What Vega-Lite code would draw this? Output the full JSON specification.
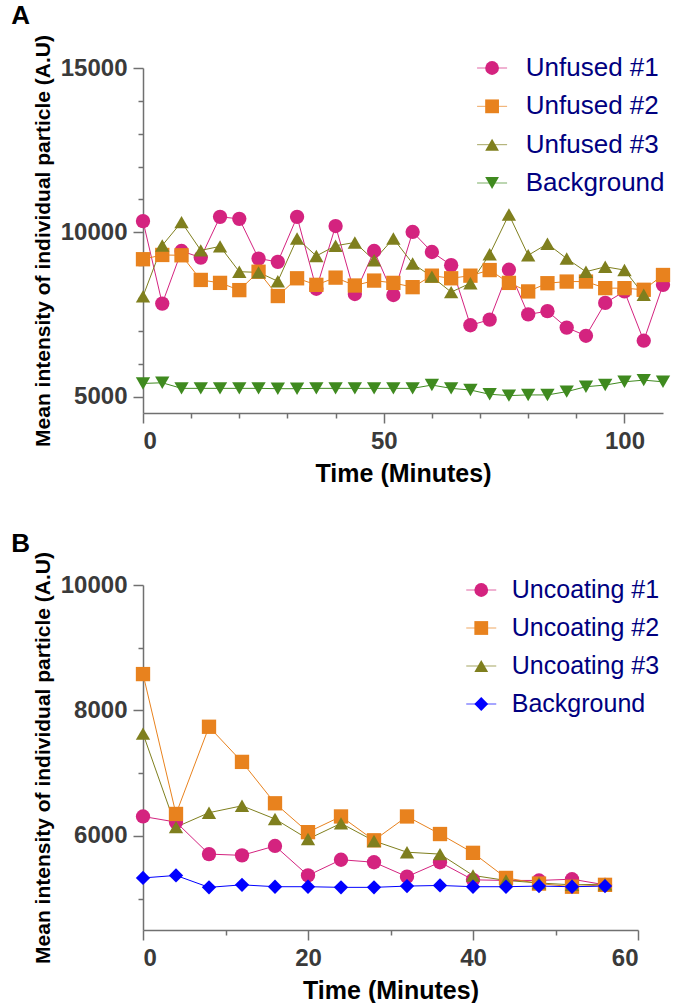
{
  "$schema": "https://vega.github.io/schema/vega-lite/v6.json",
  "padding": {"left": 11, "top": 2, "right": 0, "bottom": 0},
  "spacing": 44,
  "config": {
    "view": {"stroke": null},
    "font": "Liberation Sans",
    "axis": {
      "grid": false,
      "domainColor": "#707070", "domainWidth": 1.5,
      "tickColor": "#707070", "tickWidth": 1.5,
      "labelFont": "Liberation Sans", "labelFontWeight": "bold", "labelColor": "#3a3a3a",
      "titleFont": "Liberation Sans", "titleFontWeight": "bold", "titleColor": "#000000"
    },
    "axisX": {"labelFontSize": 24, "titleFontSize": 25, "labelPadding": 6, "titlePadding": 8},
    "axisY": {"labelFontSize": 24, "titleFontSize": 21, "labelPadding": 6, "titlePadding": 7},
    "title": {"font": "Liberation Sans", "fontSize": 26, "fontWeight": "bold", "color": "#000000", "anchor": "start", "frame": "bounds"}
  },
  "resolve": {
    "scale": {"color": "independent", "shape": "independent", "stroke": "independent"}
  },
  "datasets": {
    "a": [
      {"t": 0, "v": 10340, "s": "Unfused #1"}, {"t": 4, "v": 7830, "s": "Unfused #1"}, {"t": 8, "v": 9430, "s": "Unfused #1"}, {"t": 12, "v": 9230, "s": "Unfused #1"},
      {"t": 16, "v": 10470, "s": "Unfused #1"}, {"t": 20, "v": 10410, "s": "Unfused #1"}, {"t": 24, "v": 9200, "s": "Unfused #1"}, {"t": 28, "v": 9100, "s": "Unfused #1"},
      {"t": 32, "v": 10470, "s": "Unfused #1"}, {"t": 36, "v": 8280, "s": "Unfused #1"}, {"t": 40, "v": 10190, "s": "Unfused #1"}, {"t": 44, "v": 8120, "s": "Unfused #1"},
      {"t": 48, "v": 9430, "s": "Unfused #1"}, {"t": 52, "v": 8090, "s": "Unfused #1"}, {"t": 56, "v": 10010, "s": "Unfused #1"}, {"t": 60, "v": 9400, "s": "Unfused #1"},
      {"t": 64, "v": 9000, "s": "Unfused #1"}, {"t": 68, "v": 7170, "s": "Unfused #1"}, {"t": 72, "v": 7340, "s": "Unfused #1"}, {"t": 76, "v": 8860, "s": "Unfused #1"},
      {"t": 80, "v": 7500, "s": "Unfused #1"}, {"t": 84, "v": 7600, "s": "Unfused #1"}, {"t": 88, "v": 7100, "s": "Unfused #1"}, {"t": 92, "v": 6850, "s": "Unfused #1"},
      {"t": 96, "v": 7850, "s": "Unfused #1"}, {"t": 100, "v": 8200, "s": "Unfused #1"}, {"t": 104, "v": 6700, "s": "Unfused #1"}, {"t": 108, "v": 8400, "s": "Unfused #1"},
      {"t": 0, "v": 9180, "s": "Unfused #2"}, {"t": 4, "v": 9310, "s": "Unfused #2"}, {"t": 8, "v": 9300, "s": "Unfused #2"}, {"t": 12, "v": 8550, "s": "Unfused #2"},
      {"t": 16, "v": 8460, "s": "Unfused #2"}, {"t": 20, "v": 8240, "s": "Unfused #2"}, {"t": 24, "v": 8800, "s": "Unfused #2"}, {"t": 28, "v": 8060, "s": "Unfused #2"},
      {"t": 32, "v": 8600, "s": "Unfused #2"}, {"t": 36, "v": 8400, "s": "Unfused #2"}, {"t": 40, "v": 8620, "s": "Unfused #2"}, {"t": 44, "v": 8380, "s": "Unfused #2"},
      {"t": 48, "v": 8530, "s": "Unfused #2"}, {"t": 52, "v": 8460, "s": "Unfused #2"}, {"t": 56, "v": 8330, "s": "Unfused #2"}, {"t": 60, "v": 8680, "s": "Unfused #2"},
      {"t": 64, "v": 8600, "s": "Unfused #2"}, {"t": 68, "v": 8680, "s": "Unfused #2"}, {"t": 72, "v": 8850, "s": "Unfused #2"}, {"t": 76, "v": 8460, "s": "Unfused #2"},
      {"t": 80, "v": 8200, "s": "Unfused #2"}, {"t": 84, "v": 8450, "s": "Unfused #2"}, {"t": 88, "v": 8500, "s": "Unfused #2"}, {"t": 92, "v": 8500, "s": "Unfused #2"},
      {"t": 96, "v": 8300, "s": "Unfused #2"}, {"t": 100, "v": 8300, "s": "Unfused #2"}, {"t": 104, "v": 8250, "s": "Unfused #2"}, {"t": 108, "v": 8700, "s": "Unfused #2"},
      {"t": 0, "v": 8050, "s": "Unfused #3"}, {"t": 4, "v": 9600, "s": "Unfused #3"}, {"t": 8, "v": 10310, "s": "Unfused #3"}, {"t": 12, "v": 9450, "s": "Unfused #3"},
      {"t": 16, "v": 9570, "s": "Unfused #3"}, {"t": 20, "v": 8800, "s": "Unfused #3"}, {"t": 24, "v": 8780, "s": "Unfused #3"}, {"t": 28, "v": 8510, "s": "Unfused #3"},
      {"t": 32, "v": 9810, "s": "Unfused #3"}, {"t": 36, "v": 9280, "s": "Unfused #3"}, {"t": 40, "v": 9590, "s": "Unfused #3"}, {"t": 44, "v": 9690, "s": "Unfused #3"},
      {"t": 48, "v": 9150, "s": "Unfused #3"}, {"t": 52, "v": 9810, "s": "Unfused #3"}, {"t": 56, "v": 9050, "s": "Unfused #3"}, {"t": 60, "v": 8650, "s": "Unfused #3"},
      {"t": 64, "v": 8180, "s": "Unfused #3"}, {"t": 68, "v": 8450, "s": "Unfused #3"}, {"t": 72, "v": 9330, "s": "Unfused #3"}, {"t": 76, "v": 10540, "s": "Unfused #3"},
      {"t": 80, "v": 9300, "s": "Unfused #3"}, {"t": 84, "v": 9650, "s": "Unfused #3"}, {"t": 88, "v": 9200, "s": "Unfused #3"}, {"t": 92, "v": 8800, "s": "Unfused #3"},
      {"t": 96, "v": 8950, "s": "Unfused #3"}, {"t": 100, "v": 8850, "s": "Unfused #3"}, {"t": 104, "v": 8100, "s": "Unfused #3"},
      {"t": 0, "v": 5400, "s": "Background"}, {"t": 4, "v": 5420, "s": "Background"}, {"t": 8, "v": 5250, "s": "Background"}, {"t": 12, "v": 5250, "s": "Background"},
      {"t": 16, "v": 5250, "s": "Background"}, {"t": 20, "v": 5250, "s": "Background"}, {"t": 24, "v": 5250, "s": "Background"}, {"t": 28, "v": 5240, "s": "Background"},
      {"t": 32, "v": 5240, "s": "Background"}, {"t": 36, "v": 5250, "s": "Background"}, {"t": 40, "v": 5250, "s": "Background"}, {"t": 44, "v": 5250, "s": "Background"},
      {"t": 48, "v": 5250, "s": "Background"}, {"t": 52, "v": 5250, "s": "Background"}, {"t": 56, "v": 5250, "s": "Background"}, {"t": 60, "v": 5350, "s": "Background"},
      {"t": 64, "v": 5250, "s": "Background"}, {"t": 68, "v": 5200, "s": "Background"}, {"t": 72, "v": 5070, "s": "Background"}, {"t": 76, "v": 5030, "s": "Background"},
      {"t": 80, "v": 5050, "s": "Background"}, {"t": 84, "v": 5050, "s": "Background"}, {"t": 88, "v": 5150, "s": "Background"}, {"t": 92, "v": 5300, "s": "Background"},
      {"t": 96, "v": 5350, "s": "Background"}, {"t": 100, "v": 5450, "s": "Background"}, {"t": 104, "v": 5500, "s": "Background"}, {"t": 108, "v": 5450, "s": "Background"}
    ],
    "b": [
      {"t": 0, "v": 6310, "s": "Uncoating #1"}, {"t": 4, "v": 6220, "s": "Uncoating #1"}, {"t": 8, "v": 5710, "s": "Uncoating #1"}, {"t": 12, "v": 5690, "s": "Uncoating #1"},
      {"t": 16, "v": 5840, "s": "Uncoating #1"}, {"t": 20, "v": 5370, "s": "Uncoating #1"}, {"t": 24, "v": 5620, "s": "Uncoating #1"}, {"t": 28, "v": 5580, "s": "Uncoating #1"},
      {"t": 32, "v": 5350, "s": "Uncoating #1"}, {"t": 36, "v": 5580, "s": "Uncoating #1"}, {"t": 40, "v": 5300, "s": "Uncoating #1"}, {"t": 44, "v": 5290, "s": "Uncoating #1"},
      {"t": 48, "v": 5290, "s": "Uncoating #1"}, {"t": 52, "v": 5310, "s": "Uncoating #1"}, {"t": 56, "v": 5220, "s": "Uncoating #1"},
      {"t": 0, "v": 8580, "s": "Uncoating #2"}, {"t": 4, "v": 6350, "s": "Uncoating #2"}, {"t": 8, "v": 7740, "s": "Uncoating #2"}, {"t": 12, "v": 7180, "s": "Uncoating #2"},
      {"t": 16, "v": 6520, "s": "Uncoating #2"}, {"t": 20, "v": 6060, "s": "Uncoating #2"}, {"t": 24, "v": 6310, "s": "Uncoating #2"}, {"t": 28, "v": 5930, "s": "Uncoating #2"},
      {"t": 32, "v": 6310, "s": "Uncoating #2"}, {"t": 36, "v": 6030, "s": "Uncoating #2"}, {"t": 40, "v": 5730, "s": "Uncoating #2"}, {"t": 44, "v": 5330, "s": "Uncoating #2"},
      {"t": 48, "v": 5240, "s": "Uncoating #2"}, {"t": 52, "v": 5190, "s": "Uncoating #2"}, {"t": 56, "v": 5220, "s": "Uncoating #2"},
      {"t": 0, "v": 7630, "s": "Uncoating #3"}, {"t": 4, "v": 6140, "s": "Uncoating #3"}, {"t": 8, "v": 6370, "s": "Uncoating #3"}, {"t": 12, "v": 6480, "s": "Uncoating #3"},
      {"t": 16, "v": 6270, "s": "Uncoating #3"}, {"t": 20, "v": 5950, "s": "Uncoating #3"}, {"t": 24, "v": 6200, "s": "Uncoating #3"}, {"t": 28, "v": 5920, "s": "Uncoating #3"},
      {"t": 32, "v": 5740, "s": "Uncoating #3"}, {"t": 36, "v": 5710, "s": "Uncoating #3"}, {"t": 40, "v": 5370, "s": "Uncoating #3"}, {"t": 44, "v": 5290, "s": "Uncoating #3"},
      {"t": 48, "v": 5250, "s": "Uncoating #3"}, {"t": 52, "v": 5220, "s": "Uncoating #3"}, {"t": 56, "v": 5230, "s": "Uncoating #3"},
      {"t": 0, "v": 5330, "s": "Background"}, {"t": 4, "v": 5370, "s": "Background"}, {"t": 8, "v": 5180, "s": "Background"}, {"t": 12, "v": 5220, "s": "Background"},
      {"t": 16, "v": 5190, "s": "Background"}, {"t": 20, "v": 5190, "s": "Background"}, {"t": 24, "v": 5180, "s": "Background"}, {"t": 28, "v": 5180, "s": "Background"},
      {"t": 32, "v": 5200, "s": "Background"}, {"t": 36, "v": 5210, "s": "Background"}, {"t": 40, "v": 5190, "s": "Background"}, {"t": 44, "v": 5190, "s": "Background"},
      {"t": 48, "v": 5200, "s": "Background"}, {"t": 52, "v": 5190, "s": "Background"}, {"t": 56, "v": 5200, "s": "Background"}
    ],
    "legA": [{"s": "Unfused #1"}, {"s": "Unfused #2"}, {"s": "Unfused #3"}, {"s": "Background"}],
    "legB": [{"s": "Uncoating #1"}, {"s": "Uncoating #2"}, {"s": "Uncoating #3"}, {"s": "Background"}]
  },
  "vconcat": [
    {
      "title": {"text": "A", "dx": -21, "offset": 6},
      "width": 520, "height": 345,
      "resolve": {"scale": {"y": "independent"}},
      "layer": [
        {
          "data": {"name": "a"},
          "encoding": {
            "x": {"field": "t", "type": "quantitative", "scale": {"domain": [0, 108], "nice": false},
              "axis": {"title": "Time (Minutes)", "values": [0, 10, 20, 30, 40, 50, 60, 70, 80, 90, 100],
                "labelExpr": "datum.value % 50 === 0 ? datum.label : ''", "format": "d",
                "tickSize": {"condition": {"test": "datum.value % 50 === 0", "value": 10}, "value": 5}}},
            "y": {"field": "v", "type": "quantitative", "scale": {"domain": [4500, 15000], "nice": false, "zero": false},
              "axis": {"title": "Mean intensity of individual particle (A.U)", "values": [5000, 6000, 7000, 8000, 9000, 10000, 11000, 12000, 13000, 14000, 15000],
                "labelExpr": "datum.value % 5000 === 0 ? datum.label : ''", "format": "d",
                "tickSize": {"condition": {"test": "datum.value % 5000 === 0", "value": 10}, "value": 5}}}
          },
          "layer": [
            {"mark": {"type": "line", "strokeWidth": 1},
              "encoding": {"stroke": {"field": "s", "type": "nominal", "legend": null,
                "scale": {"domain": ["Unfused #1", "Unfused #2", "Unfused #3", "Background"], "range": ["#d4237f", "#e8821e", "#7f7f1e", "#3f8a1f"]}}}},
            {"mark": {"type": "point", "filled": true, "size": 205, "opacity": 1},
              "encoding": {
                "color": {"field": "s", "type": "nominal", "legend": null,
                  "scale": {"domain": ["Unfused #1", "Unfused #2", "Unfused #3", "Background"], "range": ["#d4237f", "#e8821e", "#7f7f1e", "#3f8a1f"]}},
                "shape": {"field": "s", "type": "nominal", "legend": null,
                  "scale": {"domain": ["Unfused #1", "Unfused #2", "Unfused #3", "Background"], "range": ["circle", "square", "triangle-up", "triangle-down"]}}
              }}
          ]
        },
        {
          "data": {"name": "legA"},
          "encoding": {
            "y": {"field": "s", "type": "nominal", "axis": null,
              "scale": {"type": "point", "domain": ["Unfused #1", "Unfused #2", "Unfused #3", "Background"], "range": [0, 115], "padding": 0}}
          },
          "layer": [
            {"mark": {"type": "tick", "orient": "horizontal", "size": 30, "thickness": 1},
              "encoding": {"x": {"datum": 72.5, "type": "quantitative",
                  "axis": {"title": "Time (Minutes)", "values": [0, 10, 20, 30, 40, 50, 60, 70, 80, 90, 100],
                    "labelExpr": "datum.value % 50 === 0 ? datum.label : ''", "format": "d",
                    "tickSize": {"condition": {"test": "datum.value % 50 === 0", "value": 10}, "value": 5}}},
                "color": {"field": "s", "type": "nominal", "legend": null,
                  "scale": {"domain": ["Unfused #1", "Unfused #2", "Unfused #3", "Background"], "range": ["#d4237f", "#e8821e", "#7f7f1e", "#3f8a1f"]}}}},
            {"mark": {"type": "point", "filled": true, "size": 190, "opacity": 1},
              "encoding": {"x": {"datum": 72.5, "type": "quantitative",
                  "axis": {"title": "Time (Minutes)", "values": [0, 10, 20, 30, 40, 50, 60, 70, 80, 90, 100],
                    "labelExpr": "datum.value % 50 === 0 ? datum.label : ''", "format": "d",
                    "tickSize": {"condition": {"test": "datum.value % 50 === 0", "value": 10}, "value": 5}}},
                "color": {"field": "s", "type": "nominal", "legend": null,
                  "scale": {"domain": ["Unfused #1", "Unfused #2", "Unfused #3", "Background"], "range": ["#d4237f", "#e8821e", "#7f7f1e", "#3f8a1f"]}},
                "shape": {"field": "s", "type": "nominal", "legend": null,
                  "scale": {"domain": ["Unfused #1", "Unfused #2", "Unfused #3", "Background"], "range": ["circle", "square", "triangle-up", "triangle-down"]}}}},
            {"mark": {"type": "text", "align": "left", "baseline": "middle", "font": "Liberation Sans", "fontSize": 26, "color": "#000080"},
              "encoding": {"x": {"datum": 79.5, "type": "quantitative",
                  "axis": {"title": "Time (Minutes)", "values": [0, 10, 20, 30, 40, 50, 60, 70, 80, 90, 100],
                    "labelExpr": "datum.value % 50 === 0 ? datum.label : ''", "format": "d",
                    "tickSize": {"condition": {"test": "datum.value % 50 === 0", "value": 10}, "value": 5}}},
                "text": {"field": "s", "type": "nominal"}}}
          ]
        }
      ]
    },
    {
      "title": {"text": "B", "dx": -21, "offset": -5},
      "width": 495, "height": 345,
      "resolve": {"scale": {"y": "independent"}},
      "layer": [
        {
          "data": {"name": "b"},
          "encoding": {
            "x": {"field": "t", "type": "quantitative", "scale": {"domain": [0, 60], "nice": false},
              "axis": {"title": "Time (Minutes)", "values": [0, 10, 20, 30, 40, 50, 60],
                "labelExpr": "datum.value % 20 === 0 ? datum.label : ''", "format": "d",
                "tickSize": {"condition": {"test": "datum.value % 20 === 0", "value": 10}, "value": 5}}},
            "y": {"field": "v", "type": "quantitative", "scale": {"domain": [4500, 10000], "nice": false, "zero": false},
              "axis": {"title": "Mean intensity of individual particle (A.U)", "values": [5000, 6000, 7000, 8000, 9000, 10000],
                "labelExpr": "datum.value % 2000 === 0 ? datum.label : ''", "format": "d",
                "tickSize": {"condition": {"test": "datum.value % 2000 === 0", "value": 10}, "value": 5}}}
          },
          "layer": [
            {"mark": {"type": "line", "strokeWidth": 1},
              "encoding": {"stroke": {"field": "s", "type": "nominal", "legend": null,
                "scale": {"domain": ["Uncoating #1", "Uncoating #2", "Uncoating #3", "Background"], "range": ["#d4237f", "#e8821e", "#7f7f1e", "#0000ff"]}}}},
            {"mark": {"type": "point", "filled": true, "size": 205, "opacity": 1},
              "encoding": {
                "color": {"field": "s", "type": "nominal", "legend": null,
                  "scale": {"domain": ["Uncoating #1", "Uncoating #2", "Uncoating #3", "Background"], "range": ["#d4237f", "#e8821e", "#7f7f1e", "#0000ff"]}},
                "shape": {"field": "s", "type": "nominal", "legend": null,
                  "scale": {"domain": ["Uncoating #1", "Uncoating #2", "Uncoating #3", "Background"], "range": ["circle", "square", "triangle-up", "diamond"]}}
              }}
          ]
        },
        {
          "data": {"name": "legB"},
          "encoding": {
            "y": {"field": "s", "type": "nominal", "axis": null,
              "scale": {"type": "point", "domain": ["Uncoating #1", "Uncoating #2", "Uncoating #3", "Background"], "range": [5, 119], "padding": 0}}
          },
          "layer": [
            {"mark": {"type": "tick", "orient": "horizontal", "size": 30, "thickness": 1},
              "encoding": {"x": {"datum": 41, "type": "quantitative",
                  "axis": {"title": "Time (Minutes)", "values": [0, 10, 20, 30, 40, 50, 60],
                    "labelExpr": "datum.value % 20 === 0 ? datum.label : ''", "format": "d",
                    "tickSize": {"condition": {"test": "datum.value % 20 === 0", "value": 10}, "value": 5}}},
                "color": {"field": "s", "type": "nominal", "legend": null,
                  "scale": {"domain": ["Uncoating #1", "Uncoating #2", "Uncoating #3", "Background"], "range": ["#d4237f", "#e8821e", "#7f7f1e", "#0000ff"]}}}},
            {"mark": {"type": "point", "filled": true, "size": 190, "opacity": 1},
              "encoding": {"x": {"datum": 41, "type": "quantitative",
                  "axis": {"title": "Time (Minutes)", "values": [0, 10, 20, 30, 40, 50, 60],
                    "labelExpr": "datum.value % 20 === 0 ? datum.label : ''", "format": "d",
                    "tickSize": {"condition": {"test": "datum.value % 20 === 0", "value": 10}, "value": 5}}},
                "color": {"field": "s", "type": "nominal", "legend": null,
                  "scale": {"domain": ["Uncoating #1", "Uncoating #2", "Uncoating #3", "Background"], "range": ["#d4237f", "#e8821e", "#7f7f1e", "#0000ff"]}},
                "shape": {"field": "s", "type": "nominal", "legend": null,
                  "scale": {"domain": ["Uncoating #1", "Uncoating #2", "Uncoating #3", "Background"], "range": ["circle", "square", "triangle-up", "diamond"]}}}},
            {"mark": {"type": "text", "align": "left", "baseline": "middle", "font": "Liberation Sans", "fontSize": 25, "color": "#000080"},
              "encoding": {"x": {"datum": 44.7, "type": "quantitative",
                  "axis": {"title": "Time (Minutes)", "values": [0, 10, 20, 30, 40, 50, 60],
                    "labelExpr": "datum.value % 20 === 0 ? datum.label : ''", "format": "d",
                    "tickSize": {"condition": {"test": "datum.value % 20 === 0", "value": 10}, "value": 5}}},
                "text": {"field": "s", "type": "nominal"}}}
          ]
        }
      ]
    }
  ]
}
